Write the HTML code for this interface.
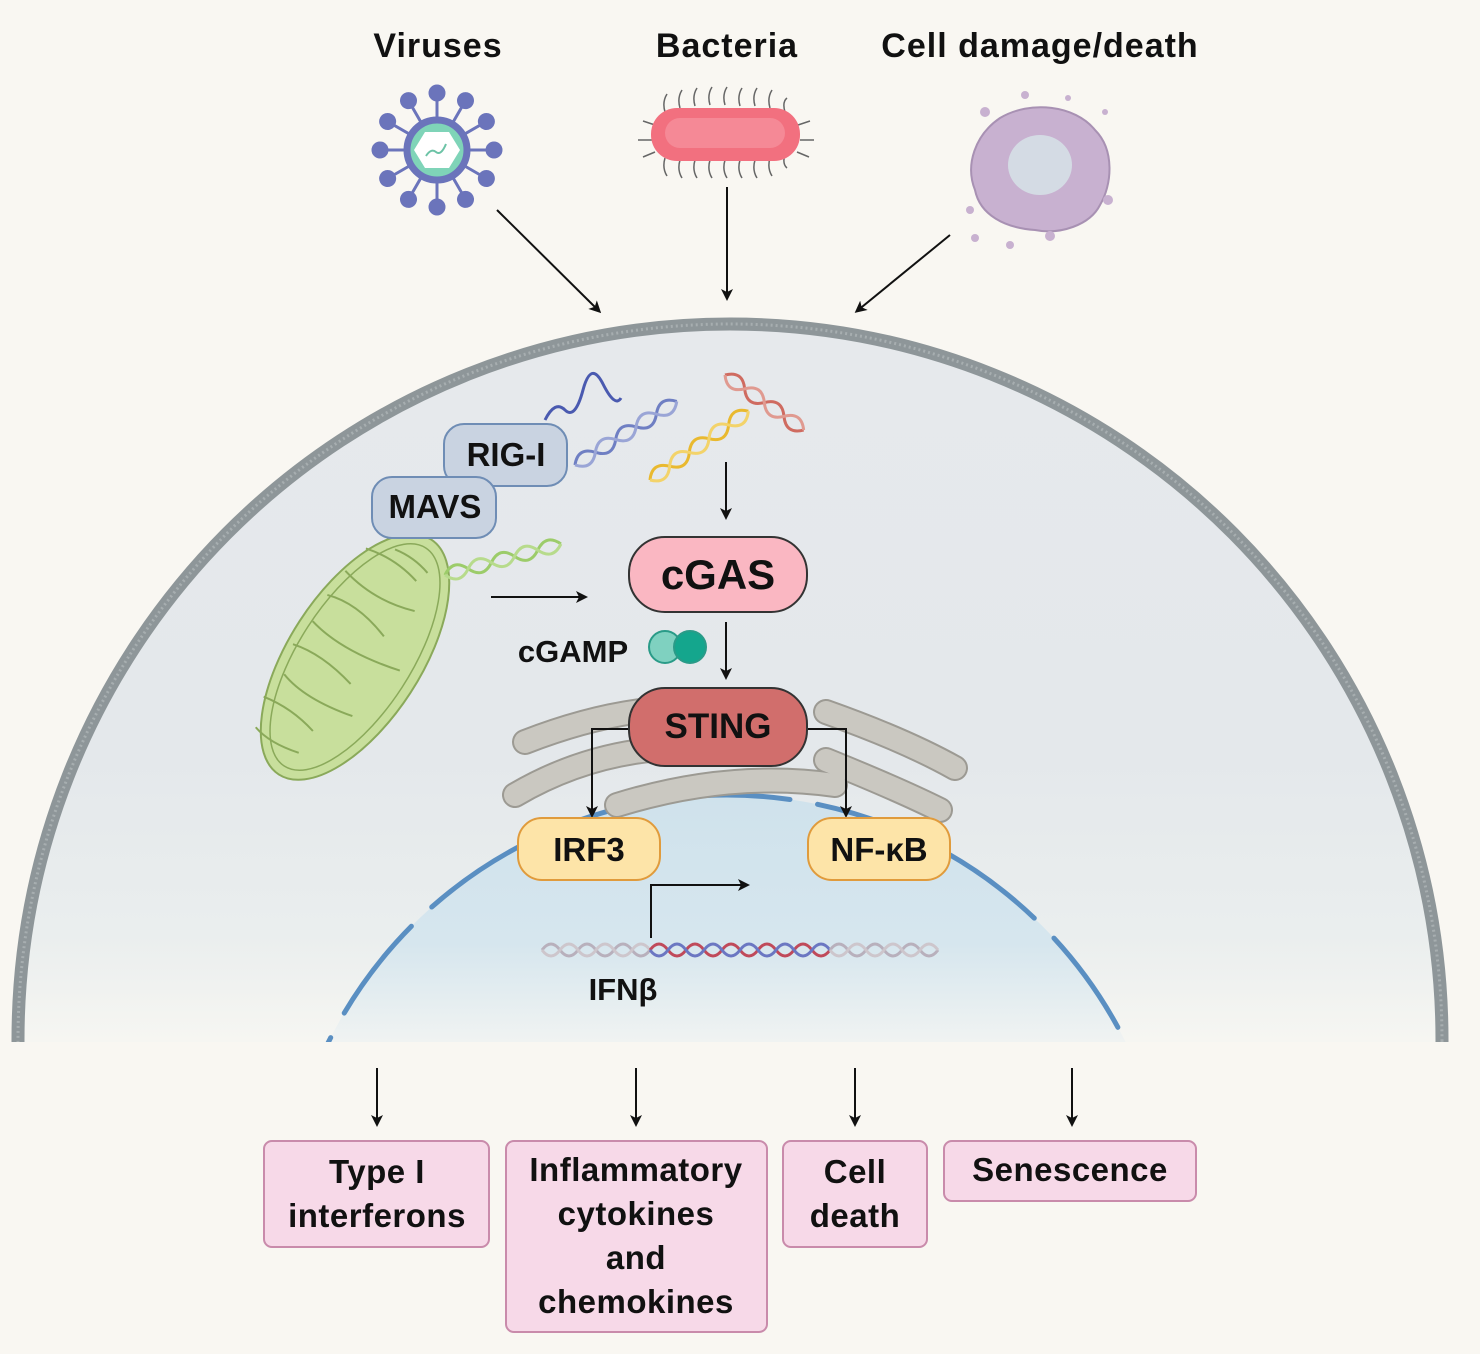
<!DOCTYPE html>
<html><head><meta charset="utf-8"><style>
html,body{margin:0;padding:0;background:#f9f7f2;width:1480px;height:1354px;overflow:hidden;}
svg{display:block;font-family:"Liberation Sans",sans-serif;}
</style></head><body>
<svg width="1480" height="1354" viewBox="0 0 1480 1354" xmlns="http://www.w3.org/2000/svg">
<defs>
<marker id="ar" markerWidth="12" markerHeight="12" refX="9" refY="6" orient="auto" markerUnits="userSpaceOnUse" viewBox="0 0 12 12"><path d="M0,0 L12,6 L0,12 L3,6 Z" fill="#111"/></marker>
<linearGradient id="cell" x1="0" y1="324" x2="0" y2="1042" gradientUnits="userSpaceOnUse"><stop offset="0" stop-color="#e6e9ec"/><stop offset="0.6" stop-color="#e4e8eb"/><stop offset="0.85" stop-color="#eaeeee"/><stop offset="1" stop-color="#f6f6f2"/></linearGradient>
<linearGradient id="nuc" x1="0" y1="795" x2="0" y2="1042" gradientUnits="userSpaceOnUse"><stop offset="0" stop-color="#cfe2ec"/><stop offset="0.6" stop-color="#d6e6ee"/><stop offset="1" stop-color="#f0f3f2"/></linearGradient>
<clipPath id="cut"><rect x="0" y="0" width="1480" height="1042"/></clipPath>
</defs>
<rect width="1480" height="1354" fill="#f9f7f2"/>

<g font-size="34" fill="#111" text-anchor="middle" font-weight="bold" letter-spacing="1">
<text x="438" y="57">Viruses</text>
<text x="727" y="57">Bacteria</text>
<text x="1040" y="57">Cell damage/death</text>
</g>

<!-- virus -->
<g stroke="#6b74bb" stroke-width="3" fill="#6b74bb">
<g id="sp"><line x1="437" y1="150" x2="437" y2="93"/><circle cx="437" cy="93" r="7"/></g>
<use href="#sp" transform="rotate(30 437 150)"/><use href="#sp" transform="rotate(60 437 150)"/><use href="#sp" transform="rotate(90 437 150)"/><use href="#sp" transform="rotate(120 437 150)"/><use href="#sp" transform="rotate(150 437 150)"/><use href="#sp" transform="rotate(180 437 150)"/><use href="#sp" transform="rotate(210 437 150)"/><use href="#sp" transform="rotate(240 437 150)"/><use href="#sp" transform="rotate(270 437 150)"/><use href="#sp" transform="rotate(300 437 150)"/><use href="#sp" transform="rotate(330 437 150)"/>
</g>
<circle cx="437" cy="150" r="30" fill="#7fd4b8" stroke="#6b74bb" stroke-width="7"/>
<polygon points="425,132 449,132 460,150 449,168 425,168 414,150" fill="#fff"/>
<path d="M426,156 q5,-8 10,-4 t10,-8" stroke="#6cc3a6" stroke-width="2" fill="none"/>

<!-- bacterium -->
<g stroke="#666" stroke-width="1.5" fill="none">
<path d="M665,112 q-3,-10 2,-18 M680,108 q-3,-10 2,-18 M695,106 q-3,-10 2,-18 M710,105 q-3,-10 2,-18 M725,105 q-3,-10 2,-18 M740,106 q-3,-10 2,-18 M755,106 q-3,-10 2,-18 M770,108 q-3,-10 2,-18 M785,112 q-3,-10 2,-14"/>
<path d="M665,158 q-3,10 2,18 M680,160 q-3,10 2,18 M695,160 q-3,10 2,18 M710,160 q-3,10 2,18 M725,160 q-3,10 2,18 M740,160 q-3,10 2,18 M755,160 q-3,10 2,18 M770,158 q-3,10 2,18 M785,154 q-3,10 2,14"/>
<path d="M655,125 l-12,-4 M652,140 l-14,0 M655,152 l-12,5 M798,125 l12,-4 M800,140 l14,0 M797,152 l12,5"/>
</g>
<rect x="651" y="108" width="149" height="53" rx="26" fill="#f2707f"/>
<rect x="665" y="118" width="120" height="30" rx="15" fill="#f69aa5" opacity="0.6"/>

<!-- dead cell -->
<path d="M1000,118 C1030,100 1075,105 1095,130 C1115,150 1112,185 1100,205 C1090,225 1060,235 1035,230 C1005,228 980,215 975,190 C965,165 975,135 1000,118 Z" fill="#c8b1d0" stroke="#a891b3" stroke-width="2"/>
<ellipse cx="1040" cy="165" rx="32" ry="30" fill="#d4dbe4"/>
<g fill="#c8b1d0"><circle cx="985" cy="112" r="5"/><circle cx="1025" cy="95" r="4"/><circle cx="1068" cy="98" r="3"/><circle cx="1108" cy="200" r="5"/><circle cx="970" cy="210" r="4"/><circle cx="975" cy="238" r="4"/><circle cx="1010" cy="245" r="4"/><circle cx="1050" cy="236" r="5"/><circle cx="1105" cy="112" r="3"/></g>

<g stroke="#111" stroke-width="2" fill="none" marker-end="url(#ar)">
<line x1="497" y1="210" x2="599" y2="311"/>
<line x1="727" y1="187" x2="727" y2="298"/>
<line x1="950" y1="235" x2="857" y2="311"/>
</g>

<!-- cell -->
<g clip-path="url(#cut)">
<ellipse cx="730" cy="1040" rx="712" ry="716" fill="url(#cell)"/>
<ellipse cx="730" cy="1040" rx="712" ry="716" fill="none" stroke="#8e9699" stroke-width="13"/>
<ellipse cx="730" cy="1040" rx="712" ry="716" fill="none" stroke="#a7aeb0" stroke-width="3" stroke-dasharray="2 3"/>
<circle cx="727" cy="1240" r="445" fill="url(#nuc)"/>
<circle cx="727" cy="1240" r="445" fill="none" stroke="#5a8fc2" stroke-width="5" stroke-linecap="round" stroke-dasharray="110 28" stroke-dashoffset="20"/>
</g>

<!-- ER -->
<g fill="none" stroke-linecap="round">
<g stroke="#9c9a93" stroke-width="26">
<path d="M525,742 Q620,705 700,708"/><path d="M515,795 Q600,745 700,748"/>
<path d="M617,805 Q730,770 835,785"/><path d="M826,712 Q905,740 955,768"/><path d="M826,760 Q900,790 940,810"/>
</g>
<g stroke="#cac8c1" stroke-width="22">
<path d="M525,742 Q620,705 700,708"/><path d="M515,795 Q600,745 700,748"/>
<path d="M617,805 Q730,770 835,785"/><path d="M826,712 Q905,740 955,768"/><path d="M826,760 Q900,790 940,810"/>
</g>
</g>

<!-- mitochondrion -->
<g transform="rotate(33 355 657)">
<ellipse cx="355" cy="657" rx="66" ry="140" fill="#c8df9c" stroke="#8aa95a" stroke-width="2"/>
<ellipse cx="355" cy="657" rx="56" ry="130" fill="none" stroke="#8aa95a" stroke-width="1.5"/>
<g stroke="#8aa95a" stroke-width="2" fill="none">
<path d="M305,560 q30,-8 60,0 M300,590 q40,10 80,-4 M298,620 q30,-10 70,4 M300,650 q40,10 100,-6 M296,680 q30,-8 70,2 M305,710 q30,10 80,-2 M300,740 q30,-6 60,2 M310,770 q20,6 50,-2 M330,545 q20,-4 40,2"/>
</g>
</g>

<!-- helices -->
<g fill="none" stroke-width="3">
<g transform="translate(445,575) rotate(-15)" stroke="#9ccc6a"><path d="M0,0 q12,-14 24,0 t24,0 t24,0 t24,0 t24,0"/><path d="M0,0 q12,14 24,0 t24,0 t24,0 t24,0 t24,0" stroke="#b7db8c"/></g>
<g transform="translate(575,465) rotate(-32)" stroke="#6f7fc3"><path d="M0,0 q12,-14 24,0 t24,0 t24,0 t24,0 t24,0"/><path d="M0,0 q12,14 24,0 t24,0 t24,0 t24,0 t24,0" stroke="#9aa5d6"/></g>
<path d="M545,420 q10,-20 20,-10 t18,-20 t20,-6 t18,14" stroke="#4a5ab0"/>
<g transform="translate(650,480) rotate(-35)" stroke="#e9b92f"><path d="M0,0 q12,-14 24,0 t24,0 t24,0 t24,0 t24,0"/><path d="M0,0 q12,14 24,0 t24,0 t24,0 t24,0 t24,0" stroke="#f3d36a"/></g>
<g transform="translate(725,375) rotate(35)" stroke="#cf6b60"><path d="M0,0 q12,-14 24,0 t24,0 t24,0 t24,0"/><path d="M0,0 q12,14 24,0 t24,0 t24,0 t24,0" stroke="#e09a90"/></g>
<g transform="translate(542,950)">
<path d="M0,0 q9,-12 18,0 t18,0 t18,0 t18,0 t18,0 t18,0" stroke="#b8b0bc"/>
<path d="M0,0 q9,12 18,0 t18,0 t18,0 t18,0 t18,0 t18,0" stroke="#cdc6cc"/>
<path d="M108,0 q9,-12 18,0 t18,0 t18,0 t18,0 t18,0 t18,0 t18,0 t18,0 t18,0 t18,0" stroke="#c04a5a"/>
<path d="M108,0 q9,12 18,0 t18,0 t18,0 t18,0 t18,0 t18,0 t18,0 t18,0 t18,0 t18,0" stroke="#6b77c2"/>
<path d="M288,0 q9,-12 18,0 t18,0 t18,0 t18,0 t18,0 t18,0" stroke="#b8b0bc"/>
<path d="M288,0 q9,12 18,0 t18,0 t18,0 t18,0 t18,0 t18,0" stroke="#cdc6cc"/>
</g>
</g>

<g font-weight="bold" fill="#111" text-anchor="middle">
<rect x="444" y="424" width="123" height="62" rx="20" fill="#c9d3e1" stroke="#6f8db5" stroke-width="2"/>
<text x="506" y="466" font-size="33">RIG-I</text>
<rect x="372" y="477" width="124" height="61" rx="20" fill="#c9d3e1" stroke="#6f8db5" stroke-width="2"/>
<text x="435" y="518" font-size="33">MAVS</text>

<rect x="629" y="537" width="178" height="75" rx="36" fill="#fab7c2" stroke="#333" stroke-width="2"/>
<text x="718" y="589" font-size="42">cGAS</text>
<text x="573" y="662" font-size="31">cGAMP</text>
</g>
<circle cx="665" cy="647" r="16" fill="#7fd1c0" stroke="#2a9b88" stroke-width="2"/>
<circle cx="690" cy="647" r="16" fill="#14a68d" stroke="#2a9b88" stroke-width="2"/>

<g stroke="#111" stroke-width="2" fill="none" marker-end="url(#ar)">
<line x1="726" y1="462" x2="726" y2="517"/>
<line x1="491" y1="597" x2="585" y2="597"/>
<line x1="726" y1="622" x2="726" y2="677"/>
<path d="M632,729 H592 V815"/>
<path d="M805,729 H846 V815"/>
<path d="M651,938 V885 H747"/>
<line x1="377" y1="1068" x2="377" y2="1124"/>
<line x1="636" y1="1068" x2="636" y2="1124"/>
<line x1="855" y1="1068" x2="855" y2="1124"/>
<line x1="1072" y1="1068" x2="1072" y2="1124"/>
</g>

<g font-weight="bold" fill="#111" text-anchor="middle">
<rect x="629" y="688" width="178" height="78" rx="36" fill="#d16e6c" stroke="#333" stroke-width="2"/>
<text x="718" y="738" font-size="35">STING</text>
<rect x="518" y="818" width="142" height="62" rx="24" fill="#fde4a8" stroke="#e09b3c" stroke-width="2"/>
<text x="589" y="861" font-size="33">IRF3</text>
<rect x="808" y="818" width="142" height="62" rx="24" fill="#fde4a8" stroke="#e09b3c" stroke-width="2"/>
<text x="879" y="861" font-size="33">NF-κB</text>
<text x="623" y="1000" font-size="31">IFNβ</text>
</g>

<g fill="#f7d9e8" stroke="#c98bab" stroke-width="2">
<rect x="264" y="1141" width="225" height="106" rx="8"/>
<rect x="506" y="1141" width="261" height="191" rx="8"/>
<rect x="783" y="1141" width="144" height="106" rx="8"/>
<rect x="944" y="1141" width="252" height="60" rx="8"/>
</g>
<g font-size="33" fill="#111" text-anchor="middle" font-weight="bold" letter-spacing="0.5">
<text x="377" y="1183">Type I</text><text x="377" y="1227">interferons</text>
<text x="636" y="1181">Inflammatory</text><text x="636" y="1225">cytokines</text><text x="636" y="1269">and</text><text x="636" y="1313">chemokines</text>
<text x="855" y="1183">Cell</text><text x="855" y="1227">death</text>
<text x="1070" y="1181">Senescence</text>
</g>
</svg>
</body></html>
